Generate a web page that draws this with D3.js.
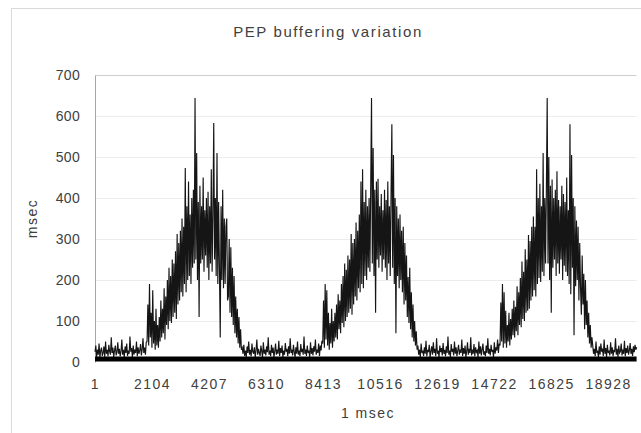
<!DOCTYPE html>
<html>
<head>
<meta charset="utf-8">
<script src="https://cdn.jsdelivr.net/npm/d3@7"></script>
<style>
  html, body { margin: 0; padding: 0; background: #fff; }
  svg { display: block; }
  text { font-family: "Liberation Sans", Arial, sans-serif; fill: #404040; }
</style>
</head>
<body>
<svg id="chart" width="641" height="433"></svg>
<script>
// Buffering delay (msec), one reading every 30 samples, split into quiet and burst stretches
const quietA = [25, 40, 12, 30, 18, 45, 10, 28, 35, 15, 22, 38, 12, 50, 20, 30,
  14, 42, 25, 18, 60, 22, 35, 12, 28, 40, 16, 24, 48, 20, 32, 14,
  26, 55, 18, 30, 12, 38, 22, 45, 15, 28, 20, 62, 25, 34, 12, 40,
  18, 30, 22, 50, 14, 36, 20, 28, 44, 16, 30, 58, 22, 35, 18, 48];
const burstA = [50, 140, 40, 190, 60, 120, 35, 175, 45, 100, 30, 130, 40, 90, 35, 110,
  50, 150, 60, 130, 70, 180, 55, 160, 90, 200, 80, 230, 100, 210, 95, 250, 110, 240, 120, 270, 105, 312, 140, 290,
  150, 320, 170, 350, 160, 330, 190, 473, 170, 380, 200, 440, 210, 360, 190, 400, 230, 420, 240, 644,
  250, 510, 200, 390, 110, 430, 240, 380, 250, 450, 220, 370, 260, 400, 230, 415, 200, 380, 240, 470,
  220, 360, 583, 250, 400, 210, 510, 190, 390, 230, 60, 380, 200, 420, 180, 350, 190, 330, 350, 150,
  160, 300, 120, 280, 110, 230, 90, 210, 70, 160, 60, 130, 45, 110, 35, 80, 30];
const quietB = [35, 20, 42, 15, 28, 12, 38, 22, 50, 18, 30, 14, 45, 25, 20, 36, 12, 28, 55, 18,
  32, 22, 15, 40, 26, 12, 48, 20, 30, 16, 38, 24, 60, 18, 28, 14, 42, 22, 35, 12,
  26, 45, 18, 30, 20, 52, 15, 34, 22, 40, 12, 28, 18, 46, 25, 32, 14, 38, 20, 58,
  22, 30, 16, 42, 25, 12, 36, 20, 50, 18, 28, 14, 44, 24, 32, 18, 62, 20, 30, 15,
  40, 22, 28, 12, 48, 20, 34, 16, 38, 25, 55, 18, 30, 22, 45, 15, 40, 28, 52];
const burstB = [45, 150, 35, 190, 55, 175, 40, 120, 30, 95, 45, 130, 35, 100, 50, 120,
  60, 140, 55, 165, 80, 150, 70, 190, 95, 210, 85, 240, 100, 225, 110, 260, 120, 250, 130, 312, 115, 290, 140, 300,
  160, 340, 150, 320, 180, 360, 170, 440, 190, 470, 180, 390, 210, 420, 200, 380, 230, 400, 220, 430,
  644, 240, 522, 210, 420, 120, 440, 250, 447, 230, 380, 260, 410, 220, 370, 250, 420, 230, 395, 200,
  440, 240, 380, 210, 410, 580, 230, 505, 190, 400, 70, 380, 210, 350, 180, 360, 200, 320, 170, 330,
  140, 290, 150, 260, 110, 207, 95, 230, 80, 170, 60, 140, 50, 100, 40, 75, 30];
const quietC = [40, 18, 30, 12, 45, 22, 28, 15, 36, 20, 52, 14, 30, 24, 42, 12, 26, 38, 18, 48,
  22, 32, 15, 58, 20, 28, 12, 40, 24, 34, 16, 46, 20, 30, 14, 38, 22, 62, 18, 28,
  12, 44, 25, 32, 16, 50, 20, 36, 14, 28, 42, 18, 30, 22, 55, 15, 34, 20, 40, 12,
  26, 48, 18, 32, 22, 60, 16, 30, 20, 44, 14, 36, 24, 28, 12, 50, 20, 38, 16, 30,
  45, 18, 26, 14, 40, 22, 58, 20, 32, 16, 42, 25, 30, 12, 48, 20, 36, 28, 55, 22, 45];
const burstC = [40, 145, 50, 190, 35, 170, 45, 125, 35, 90, 50, 120, 40, 105, 55, 130,
  65, 150, 60, 135, 75, 185, 65, 170, 90, 205, 85, 245, 105, 220, 100, 275, 120, 250, 125, 310, 130, 295, 150, 330,
  160, 355, 175, 330, 160, 470, 190, 400, 205, 435, 195, 380, 220, 510, 210, 400, 240, 420,
  644, 240, 500, 200, 430, 120, 445, 230, 400, 250, 420, 210, 465, 240, 395, 215, 380, 250, 430, 200,
  410, 235, 390, 220, 450, 210, 370, 190, 580, 165, 505, 230, 400, 65, 380, 185, 345, 200, 330, 150, 290, 180,
  115, 260, 140, 215, 80, 200, 90, 150, 60, 120, 45, 90, 35, 60];
const quietD = [40, 20, 32, 14, 50, 22, 28, 12, 38, 18, 45, 25, 30, 15, 55, 20, 34, 12, 42, 22,
  28, 16, 48, 20, 36, 14, 30, 24, 58, 18, 32, 12, 40, 22, 26, 45, 16, 30, 20, 52,
  14, 34, 22, 40, 18, 28, 46, 20, 32, 15, 38, 24, 42, 30, 36];

const sampleStep = 30;
const xTickLabels = [1, 2104, 4207, 6310, 8413, 10516, 12619, 14722, 16825, 18928];
const yTicks = [0, 100, 200, 300, 400, 500, 600, 700];

const delay = [].concat(quietA, burstA, quietB, burstB, quietC, burstC, quietD);
const series = delay.map((v, i) => ({ sample: 1 + i * sampleStep, v }));

const svg = d3.select("#chart");
const W = 641, H = 433;
const plot = { left: 95, right: 636.6, top: 75, bottom: 362 };
const pxPerSample = 0.02711;

// outer chart frame
svg.append("rect")
  .attr("x", 11.5).attr("y", 8.5)
  .attr("width", W).attr("height", H)
  .attr("fill", "none").attr("stroke", "#d9d9d9");

const lastSample = series[series.length - 1].sample;
const x = d3.scaleLinear()
  .domain([1, lastSample])
  .range([plot.left, plot.left + (lastSample - 1) * pxPerSample]);
const y = d3.scaleLinear().domain([0, 700]).range([plot.bottom, plot.top]);

// horizontal gridlines
svg.append("g")
  .selectAll("line")
  .data(yTicks.filter(d => d > 0))
  .join("line")
  .attr("x1", plot.left).attr("x2", plot.right)
  .attr("y1", d => Math.round(y(d)) + 0.5).attr("y2", d => Math.round(y(d)) + 0.5)
  .attr("stroke", d => d === 700 ? "#cfcfcf" : "#ececec");

// y axis
const yAxis = svg.append("g")
  .attr("transform", `translate(${plot.left},0)`)
  .call(d3.axisLeft(y).tickValues(yTicks).tickSize(0).tickPadding(15));
yAxis.select(".domain").attr("stroke", "#a6a6a6");
yAxis.selectAll("text")
  .style("font-size", "14px")
  .attr("fill", "#404040")
  .attr("letter-spacing", "0.3px");

// x axis labels
const xAxis = svg.append("g")
  .attr("transform", `translate(0,${plot.bottom})`)
  .call(d3.axisBottom(x).tickValues(xTickLabels).tickFormat(d3.format("d")).tickSize(0).tickPadding(17));
xAxis.select(".domain").remove();
xAxis.selectAll("text")
  .style("font-size", "14px")
  .attr("fill", "#404040")
  .attr("letter-spacing", "1.5px");

// delay trace
svg.append("path")
  .datum(series)
  .attr("fill", "none")
  .attr("stroke", "#151515")
  .attr("stroke-width", 1.15)
  .attr("stroke-linejoin", "miter")
  .attr("d", d3.line().x(d => x(d.sample)).y(d => y(d.v)));

// heavy base line along zero
svg.append("line")
  .attr("x1", plot.left).attr("x2", plot.right)
  .attr("y1", y(0) - 3).attr("y2", y(0) - 3)
  .attr("stroke", "#000").attr("stroke-width", 5);

// titles
svg.append("text")
  .attr("x", 328).attr("y", 37)
  .attr("text-anchor", "middle")
  .style("font-size", "15px")
  .attr("letter-spacing", "1.6px")
  .text("PEP buffering variation");

svg.append("text")
  .attr("transform", `translate(37,${(plot.top + plot.bottom) / 2}) rotate(-90)`)
  .attr("text-anchor", "middle")
  .style("font-size", "14px")
  .attr("letter-spacing", "1.5px")
  .text("msec");

svg.append("text")
  .attr("x", 368).attr("y", 418)
  .attr("text-anchor", "middle")
  .style("font-size", "14px")
  .attr("letter-spacing", "1.5px")
  .text("1 msec");
</script>
</body>
</html>
